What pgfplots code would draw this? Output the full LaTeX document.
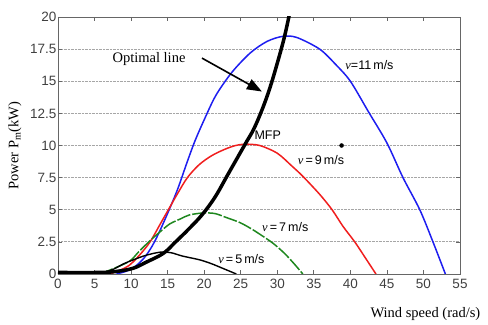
\documentclass[border=0pt]{standalone}
\usepackage{fontspec}
\setmainfont{Liberation Serif}
\setsansfont{Liberation Sans}
\usepackage{pgfplots}
\pgfplotsset{compat=1.18}
\usetikzlibrary{arrows.meta}
\definecolor{cblue}{RGB}{30,30,240}
\definecolor{cred}{RGB}{240,30,30}
\definecolor{cgreen}{RGB}{30,135,30}
\begin{document}
\begin{tikzpicture}
\begin{axis}[
  scale only axis, width=402pt, height=257pt,
  xmin=0, xmax=55, ymin=0, ymax=20,
  xtick={0,5,10,15,20,25,30,35,40,45,50,55},
  xticklabels={0,5,10,15,20,25,30,35,40,45,50,55},
  ytick={0,2.5,5,7.5,10,12.5,15,17.5,20},
  yticklabels={0,2.5,5,7.5,10,12.5,15,17.5,20},
  tick align=inside,
  major tick length=4pt,
  ymajorgrids,
  major grid style={densely dotted, black!35, line width=0.9pt},
  axis line style={black!60, line width=0.9pt},
  every tick/.style={black!60, line width=0.7pt},
  /pgf/number format/assume math mode=true,
  tick label style={font=\sffamily\fontsize{13.5}{15}\selectfont, text=black!75},
  yticklabel style={xshift=2pt},
  xticklabel style={yshift=-2pt},
  xlabel={Wind speed (rad/s)},
  xlabel style={at={(rel axis cs:1,0)}, anchor=west, xshift=-93pt, yshift=-40pt, font=\fontsize{14.5}{16}\selectfont},
  ylabel={Power P\textsubscript{m}(kW)},
  ylabel style={at={(axis description cs:-0.107,0.5)}, anchor=center, font=\fontsize{14.5}{16}\selectfont},
  clip=true,
]
% v = 11 m/s
\addplot[cblue, line width=1.5pt, smooth, tension=0.5] coordinates {
(8,0) (9.5,0.25) (10.8,0.7) (12,1.4) (13.2,2.5) (14.6,4.2) (16.3,6.5) (17.6,8.6) (18.7,10.3) (20,12) (21.6,13.9) (23.8,15.7) (26.3,17.2) (28.6,18.1) (30.8,18.5) (32.7,18.4) (35.8,17.5) (38,16.3) (40,15) (42.5,12.6) (45,10.2) (47.2,7.5) (49.5,5) (51.3,2.5) (53,0)};
% v = 9 m/s
\addplot[cred, line width=1.5pt, smooth, tension=0.5] coordinates {
(7,0) (8.5,0.3) (9.8,0.7) (11.2,1.5) (12.6,2.5) (14,3.9) (15.2,5.1) (16.3,6.2) (17.7,7.5) (19.3,8.5) (21,9.2) (22.8,9.7) (24.3,10) (25.6,10.1) (27.6,10) (30,9.4) (32,8.4) (33.5,7.6) (35.8,6.2) (37.5,5) (39,3.7) (40.6,2.5) (42,1.3) (43.5,0)};
% v = 7 m/s
\addplot[cgreen, line width=1.5pt, smooth, tension=0.5, dash pattern=on 14pt off 2pt] coordinates {
(5.7,0) (7.5,0.4) (9.8,1.0) (11,1.7) (12.6,2.6) (14,3.3) (15.3,3.9) (16.8,4.3) (18,4.6) (19.9,4.75) (21.5,4.7) (23,4.4) (24.9,4.0) (26.5,3.5) (27.6,3.1) (29.4,2.4) (31,1.6) (32.3,0.8) (33.5,0)};
% v = 5 m/s
\addplot[black, line width=1.4pt, smooth, tension=0.5] coordinates {
(5.7,0) (7.5,0.35) (9,0.8) (10.3,1.1) (12,1.45) (14,1.7) (15.5,1.65) (17,1.4) (19.4,1.1) (21,0.8) (22.5,0.45) (24.4,0)};
% optimal line
\addplot[black, line width=3.5pt, smooth, tension=0.6] coordinates {
(0,0.12) (5.5,0.12) (8,0.2) (10.3,0.45) (12,0.9) (14.4,1.6) (16,2.45) (17.8,3.45) (19.7,4.6) (21.5,6.0) (23.3,7.8) (25.6,10.1) (26.8,11.3) (28,12.9) (29,14.5) (30,16.4) (31,18.5) (31.8,20.6)};
% dot
\addplot[only marks, mark=*, mark size=2pt, black] coordinates {(38.8,10)};
% annotations
\node[font=\fontsize{14.5}{16}\selectfont] at (axis cs:12.45,16.7) {Optimal line};
\draw[-{Triangle[length=15pt,width=11pt]}, line width=1.6pt] (axis cs:19.7,16.8) -- (axis cs:27.9,14.2);
\node[font=\sffamily\fontsize{12.5}{14}\selectfont] at (axis cs:28.7,10.8) {MFP};
\node[anchor=west, font=\sffamily\fontsize{12.5}{14}\selectfont, inner sep=0pt] at (axis cs:39.3,16.3) {{\rmfamily\itshape ν}=11\,m/s};
\node[anchor=west, font=\sffamily\fontsize{12.5}{14}\selectfont, inner sep=0pt] at (axis cs:32.8,8.9) {{\rmfamily\itshape ν}\,=\,9\,m/s};
\node[anchor=west, font=\sffamily\fontsize{12.5}{14}\selectfont, inner sep=0pt] at (axis cs:27.9,3.66) {{\rmfamily\itshape ν}\,=\,7\,m/s};
\node[anchor=west, font=\sffamily\fontsize{12.5}{14}\selectfont, inner sep=0pt] at (axis cs:21.9,1.15) {{\rmfamily\itshape ν}\,=\,5\,m/s};
\coordinate (A) at (rel axis cs:0,0);
\coordinate (B) at (rel axis cs:1,1);
\end{axis}
\path (A) ++(-58pt,-51pt) coordinate (P);
\path (B) ++(28pt,17pt) coordinate (Q);
\pgfresetboundingbox
\path[use as bounding box] (P) rectangle (Q);
\end{tikzpicture}
\end{document}
